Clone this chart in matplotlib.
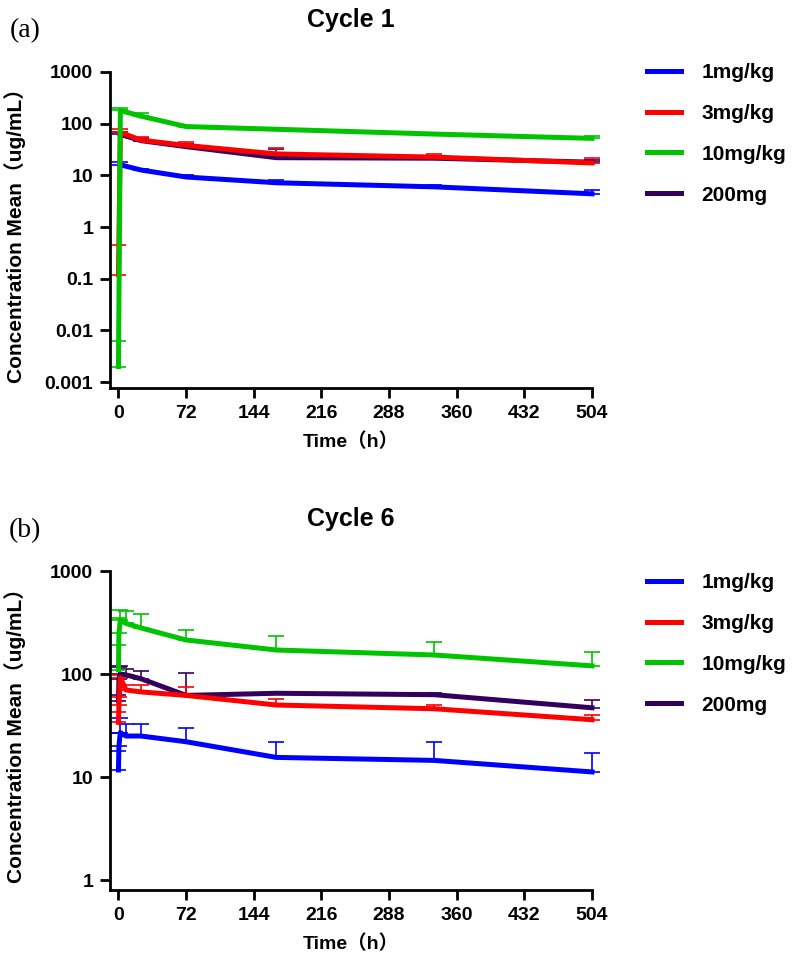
import numpy as np
import matplotlib
matplotlib.use("Agg")
import matplotlib.pyplot as plt
from matplotlib.ticker import FixedLocator, FixedFormatter, NullLocator

plt.rcParams["font.family"] = ["Liberation Sans", "Noto Sans CJK SC", "DejaVu Sans"]
plt.rcParams["font.weight"] = "bold"

groups = ["1mg/kg", "3mg/kg", "10mg/kg", "200mg"]
colors = ["#0000FF", "#FF0000", "#00C400", "#33005E"]

# ---- Cycle 1 (mean and mean+SD) ----
time_c1 = [0, 2, 24, 72, 168, 336, 504]
c1_mean = {
    "1mg/kg": [np.nan, 16, 12.7, 9.3, 7.2, 6.0, 4.4],
    "3mg/kg": [0.12, 68, 48, 38, 26, 22.6, 17.4],
    "10mg/kg": [0.002, 180, 140, 88, 78, 63, 52],
    "200mg": [np.nan, 62, 47, 36, 22, 21.5, 18],
}
c1_upper = {
    "1mg/kg": [np.nan, 18, 13.5, 10, 8.2, 6.5, 5.2],
    "3mg/kg": [0.45, 80, 55, 44, 34, 26, 21.6],
    "10mg/kg": [0.0063, 198, 160, 92, 82, 65, 57],
    "200mg": [np.nan, 70, 52, 40, 32, 24, 20],
}

# ---- Cycle 6 ----
time_c6 = [0, 0.5, 2, 8, 24, 72, 168, 336, 504]
c6_mean = {
    "1mg/kg": [11.7, 20, 27, 25, 25, 22, 15.5, 14.5, 11.2],
    "3mg/kg": [34, 50, 92, 70, 67, 62, 50, 46, 36],
    "10mg/kg": [110, 250, 335, 310, 280, 214, 171, 153, 120],
    "200mg": [55, 90, 100, 98, 90, 62, 65, 63, 47],
}
c6_upper = {
    "1mg/kg": [18, 27, 37, 33, 33, 30, 22, 22, 17],
    "3mg/kg": [43, 60, 98, 78, 78, 75, 57, 50, 40],
    "10mg/kg": [190, 350, 415, 410, 382, 268, 234, 205, 164],
    "200mg": [62, 117, 120, 112, 107, 102, 66, 65, 56],
}

x_ticks = [0, 72, 144, 216, 288, 360, 432, 504]

draw_order = ["200mg", "1mg/kg", "3mg/kg", "10mg/kg"]


def draw_panel(ax, t, mean, upper, y_ticks, y_labels, ylim, title, tag, tag_y, legend_top):
    t = np.array(t, dtype=float)
    handles = {}
    for g in draw_order:
        c = colors[groups.index(g)]
        m = np.array(mean[g], dtype=float)
        u = np.array(upper[g], dtype=float)
        ok = ~np.isnan(m)
        ax.errorbar(t[ok], m[ok], yerr=[np.zeros(ok.sum()), u[ok] - m[ok]],
                    fmt="none", ecolor=c, elinewidth=1.2, capsize=6,
                    capthick=1.2, clip_on=False, zorder=2)
        (ln,) = ax.plot(t[ok], m[ok], color=c, lw=3.6, clip_on=False,
                        zorder=3, label=g)
        handles[g] = ln

    ax.set_yscale("log")
    ax.set_ylim(*ylim)
    ax.set_xlim(-9, 504)
    ax.yaxis.set_major_locator(FixedLocator(y_ticks))
    ax.yaxis.set_major_formatter(FixedFormatter(y_labels))
    ax.yaxis.set_minor_locator(NullLocator())
    ax.set_xticks(x_ticks)
    ax.set_xticklabels([str(v) for v in x_ticks])

    for s in ["top", "right"]:
        ax.spines[s].set_visible(False)
    for s in ["left", "bottom"]:
        ax.spines[s].set_linewidth(2)
    ax.tick_params(axis="both", length=7, width=2, labelsize=14, pad=5)

    ax.set_xlabel("Time（h）", fontsize=14, fontweight="bold", labelpad=8)
    ax.set_ylabel("Concentration Mean（ug/mL）", fontsize=15, fontweight="bold")
    ax.yaxis.set_label_coords(-0.175, 0.5)

    h_px = ax.get_position().height * 977
    ax.text(0.5, 1 + 52 / h_px, title, transform=ax.transAxes, ha="center",
            va="center", fontsize=18, fontweight="bold")

    fig.text(25 / 796, 1 - tag_y / 977, tag, family=["Liberation Serif"],
             fontsize=20, fontweight="normal", ha="center", va="center")

    ax.legend([handles[g] for g in groups], groups, loc="upper left",
              bbox_to_anchor=(647 / 796, legend_top),
              bbox_transform=fig.transFigure, frameon=False, fontsize=15,
              handlelength=1.65, handletextpad=0.95, labelspacing=1.05,
              borderpad=0, borderaxespad=0)


fig = plt.figure(figsize=(7.96, 9.77), dpi=100)
ax_a = fig.add_axes([110 / 796, 1 - 388 / 977, 482 / 796, 316 / 977])
ax_b = fig.add_axes([110 / 796, 1 - 890 / 977, 482 / 796, 319 / 977])

draw_panel(ax_a, time_c1, c1_mean, c1_upper,
           [0.001, 0.01, 0.1, 1, 10, 100, 1000],
           ["0.001", "0.01", "0.1", "1", "10", "100", "1000"],
           (0.00077, 1000), "Cycle 1", "(a)", 31, 1 - 63 / 977)
draw_panel(ax_b, time_c6, c6_mean, c6_upper,
           [1, 10, 100, 1000], ["1", "10", "100", "1000"],
           (0.80, 1000), "Cycle 6", "(b)", 531, 1 - 573 / 977)

fig.savefig("out.png", dpi=100)
